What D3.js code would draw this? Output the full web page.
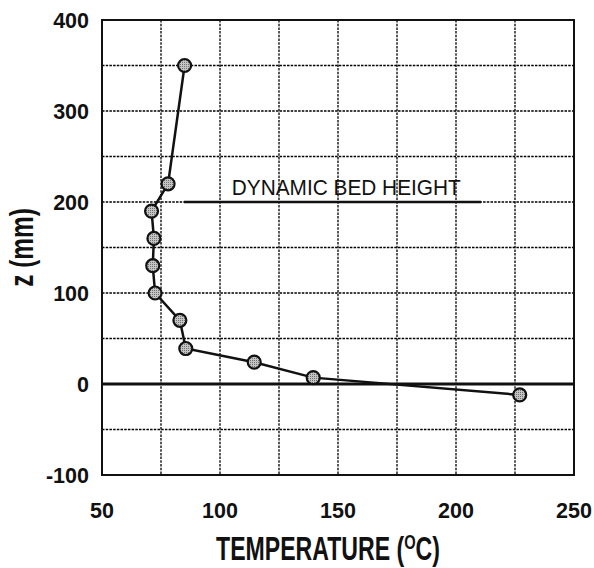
<!DOCTYPE html>
<html>
<head>
<meta charset="utf-8">
<script src="https://d3js.org/d3.v7.min.js"></script>
<style>
  body { margin: 0; background: #fff; }
  .tick-label { font-family: "Liberation Sans", Arial, sans-serif; font-weight: bold; font-size: 21.5px; fill: #111; }
  .axis-title { font-family: "Liberation Sans", Arial, sans-serif; font-weight: bold; font-size: 33px; fill: #111; }
</style>
</head>
<body>
<script>
// temperature (C) vs height z (mm)
var temperature = [85, 78, 71, 72, 71.5, 72.5, 83, 85.5, 114.5, 139.5, 227];
var height      = [350, 220, 190, 160, 130, 100, 70, 39, 24, 7, -12];
var xTicks = [50, 100, 150, 200, 250];
var yTicks = [-100, 0, 100, 200, 300, 400];
var bedHeight = 200, bedFrom = 84.7, bedTo = 210.6;

var W = 594, H = 568;
var m = {left: 102, right: 20, top: 20, bottom: 93};

var svg = d3.select("body").append("svg")
    .attr("width", W).attr("height", H);

var x = d3.scaleLinear().domain([50, 250]).range([m.left, W - m.right]);
var y = d3.scaleLinear().domain([-100, 400]).range([H - m.bottom, m.top]);

// dotted grid every 25 C and 50 mm
var grid = svg.append("g")
    .attr("stroke", "#000").attr("stroke-width", 1.3)
    .attr("stroke-dasharray", "2.5,1.2");
grid.selectAll("line.gx").data(d3.range(75, 250, 25)).enter().append("line")
    .attr("x1", d => x(d)).attr("x2", d => x(d))
    .attr("y1", y(400)).attr("y2", y(-100));
grid.selectAll("line.gy").data(d3.range(-50, 400, 50)).enter().append("line")
    .attr("y1", d => y(d)).attr("y2", d => y(d))
    .attr("x1", x(50)).attr("x2", x(250));

// frame
svg.append("rect")
    .attr("x", x(50)).attr("y", y(400))
    .attr("width", x(250) - x(50)).attr("height", y(-100) - y(400))
    .attr("fill", "none").attr("stroke", "#111").attr("stroke-width", 2);

// zero line
svg.append("line")
    .attr("x1", x(50)).attr("x2", x(250))
    .attr("y1", y(0)).attr("y2", y(0))
    .attr("stroke", "#111").attr("stroke-width", 3);

// dynamic bed height
svg.append("line")
    .attr("x1", x(bedFrom)).attr("x2", x(bedTo))
    .attr("y1", y(bedHeight)).attr("y2", y(bedHeight))
    .attr("stroke", "#111").attr("stroke-width", 2.5);
svg.append("text")
    .attr("x", x(153.5)).attr("y", y(bedHeight) - 7)
    .attr("text-anchor", "middle")
    .attr("textLength", 229).attr("lengthAdjust", "spacingAndGlyphs")
    .style("font-family", "'Liberation Sans', Arial, sans-serif")
    .style("font-size", "22px").style("fill", "#111")
    .text("DYNAMIC BED HEIGHT");

// data line + markers
var pts = temperature.map((t, i) => [t, height[i]]);
svg.append("path")
    .datum(pts)
    .attr("fill", "none").attr("stroke", "#111").attr("stroke-width", 2.5)
    .attr("d", d3.line().x(d => x(d[0])).y(d => y(d[1])));

var defs = svg.append("defs");
var pat = defs.append("pattern").attr("id", "dots")
    .attr("width", 2).attr("height", 2).attr("patternUnits", "userSpaceOnUse");
pat.append("rect").attr("width", 2).attr("height", 2).attr("fill", "#c4c4c4");
pat.append("rect").attr("width", 1).attr("height", 1).attr("fill", "#707070");

svg.selectAll("circle.pt").data(pts).enter().append("circle")
    .attr("cx", d => x(d[0])).attr("cy", d => y(d[1]))
    .attr("r", 6.5)
    .attr("fill", "url(#dots)").attr("stroke", "#111").attr("stroke-width", 2.2);

// tick labels
svg.selectAll("text.yl").data(yTicks).enter().append("text")
    .attr("class", "tick-label")
    .attr("x", m.left - 13).attr("y", d => y(d) + 8)
    .attr("text-anchor", "end")
    .text(d => d);
svg.selectAll("text.xl").data(xTicks).enter().append("text")
    .attr("class", "tick-label")
    .attr("x", d => x(d)).attr("y", 518)
    .attr("text-anchor", "middle")
    .text(d => d);

// axis titles (condensed by horizontal scaling)
var xt = svg.append("text").attr("class", "axis-title")
    .attr("transform", "translate(328,560) scale(0.7,1)")
    .attr("text-anchor", "middle");
xt.append("tspan").text("TEMPERATURE (");
xt.append("tspan").attr("dy", -11).style("font-size", "21px").text("O");
xt.append("tspan").attr("dy", 11).text("C)");

svg.append("text").attr("class", "axis-title")
    .attr("transform", "translate(33," + ((y(400) + y(-100)) / 2) + ") rotate(-90) scale(0.74,1)")
    .attr("text-anchor", "middle")
    .text("z (mm)");
</script>
</body>
</html>
